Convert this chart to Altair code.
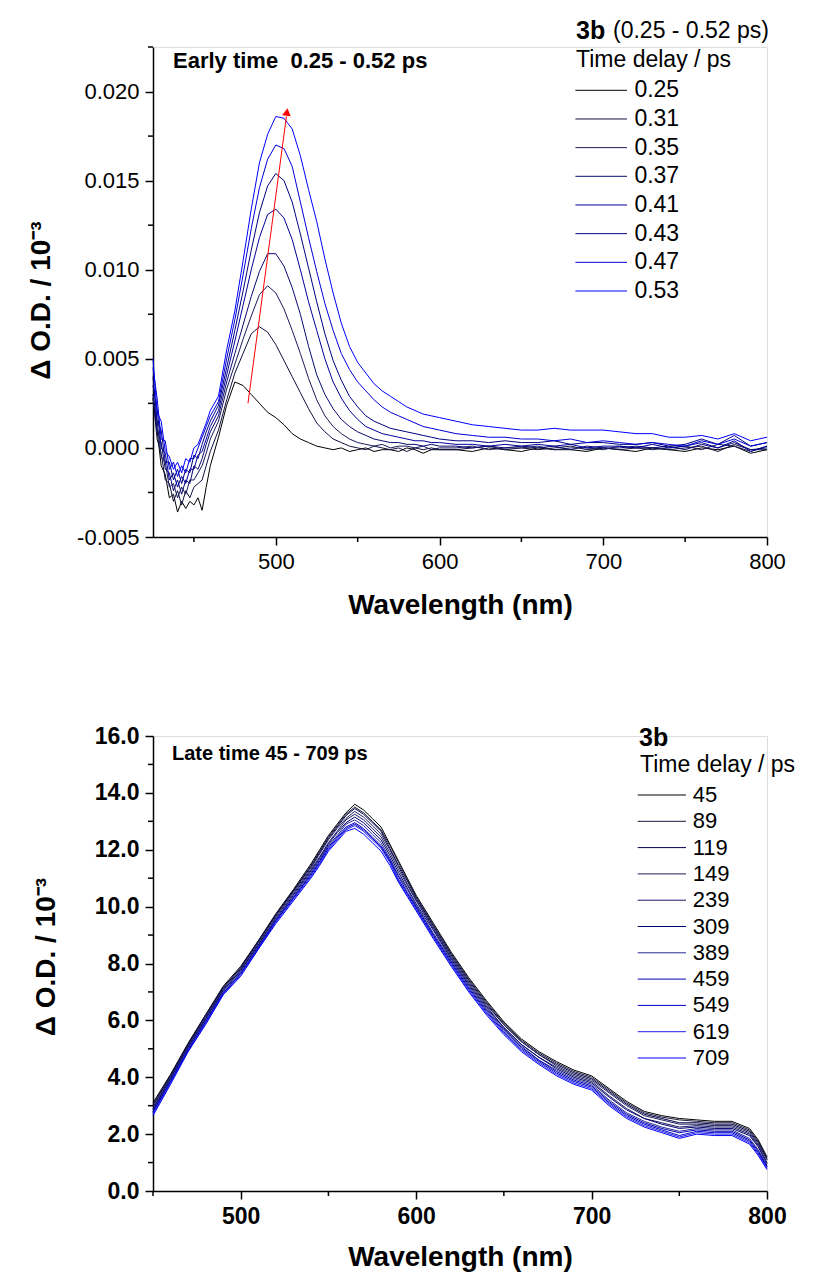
import altair as alt
import pandas as pd

FONT = "Liberation Sans"

# ---------------- top panel data (early time) ----------------
wl_top = [425, 427.5, 430, 432.5, 435, 437.5, 440, 442.5, 445, 447.5, 450, 452.5, 455, 457.5, 460,
          465, 470, 475, 480, 485, 490, 495, 500, 505, 510, 515, 520, 525, 530, 535, 540, 545, 550,
          555, 560, 565, 570, 575, 580, 585, 590, 595, 600,
          610, 620, 630, 640, 650, 660, 670, 680, 690, 700, 710, 720, 730, 740, 750, 760, 770, 780, 790, 800]

delays_top = ["0.25", "0.31", "0.35", "0.37", "0.41", "0.43", "0.47", "0.53"]
colors_top = ["#000000", "#101040", "#1a1a5c", "#0a0a70", "#00009a", "#000080", "#0000d8", "#0000ff"]

# values in units of 1e-3 OD
od_025 = [2.8, 1.0, -1.0, -1.5, -2.8, -2.6, -3.6, -3.0, -3.4, -3.0, -3.2, -2.8, -3.5, -2.2, -1.0,
          0.6, 2.4, 3.7, 3.5, 3.0, 2.5, 2.0, 1.7, 1.3, 0.8, 0.5, 0.3, 0.1, 0.0, -0.1, 0.0, -0.2, -0.1,
          0.0, -0.2, -0.1, -0.1, -0.2, 0.0, -0.1, -0.3, -0.1, -0.1,
          -0.1, -0.2, 0.0, -0.1, -0.2, 0.0, -0.1, -0.1, -0.2, 0.0, -0.1, -0.2, 0.0, -0.1, -0.2, 0.0, -0.1, 0.1, -0.3, -0.1]
od_031 = [2.8, 0.5, -0.3, -1.8, -2.0, -3.0, -2.4, -3.2, -2.4, -2.8, -2.2, -2.0, -1.8, -1.0, -0.2,
          1.0, 2.7, 4.2, 5.3, 6.4, 6.8, 6.5, 5.8, 4.9, 4.0, 3.1, 2.2, 1.4, 0.9, 0.5, 0.3, 0.1, 0.0,
          -0.1, 0.1, 0.0, -0.1, 0.0, -0.2, 0.0, -0.1, 0.0, -0.1,
          -0.1, 0.0, 0.1, -0.1, 0.0, -0.1, 0.0, 0.1, -0.1, 0.0, -0.1, 0.0, 0.0, -0.1, 0.0, 0.1, -0.2, 0.2, -0.1, -0.1]
od_035 = [3.0, 1.5, -0.5, -0.8, -2.2, -2.0, -2.8, -2.2, -2.6, -1.8, -1.8, -1.4, -1.0, -0.3, 0.5,
          1.5, 3.3, 4.7, 6.1, 7.4, 8.6, 9.1, 8.7, 7.8, 6.6, 5.3, 3.9, 2.7, 1.8, 1.2, 0.8, 0.5, 0.3,
          0.2, 0.1, 0.2, 0.0, 0.1, 0.1, 0.0, 0.1, -0.1, 0.0,
          0.0, 0.1, -0.1, 0.0, 0.0, 0.1, -0.1, 0.0, 0.0, -0.1, 0.1, 0.0, -0.1, 0.0, 0.1, -0.1, 0.2, 0.1, -0.2, 0.1]
od_037 = [3.0, 1.0, 0.3, -1.2, -1.4, -2.4, -1.8, -2.6, -1.8, -2.0, -1.0, -1.2, -0.6, 0.2, 0.9,
          1.8, 3.7, 5.3, 6.9, 8.5, 9.9, 10.9, 10.9, 10.2, 9.0, 7.5, 5.7, 4.1, 3.0, 2.2, 1.6, 1.2, 0.9,
          0.7, 0.5, 0.4, 0.3, 0.3, 0.2, 0.2, 0.1, 0.2, 0.1,
          0.1, 0.0, 0.1, 0.0, 0.1, 0.0, 0.1, -0.1, 0.1, 0.0, 0.0, 0.1, 0.0, 0.1, -0.1, 0.2, 0.0, 0.3, -0.1, 0.0]
od_041 = [3.5, 2.2, 0.0, -0.3, -1.8, -1.4, -2.2, -1.6, -2.0, -1.2, -1.2, -0.4, -0.2, 0.5, 1.2,
          2.1, 4.1, 6.0, 8.0, 10.0, 11.8, 13.1, 13.4, 12.9, 11.7, 10.0, 8.2, 6.6, 5.0, 3.7, 2.8, 2.1, 1.6,
          1.2, 1.0, 0.8, 0.7, 0.6, 0.5, 0.4, 0.4, 0.3, 0.3,
          0.2, 0.2, 0.1, 0.2, 0.1, 0.2, 0.1, 0.2, 0.0, 0.1, 0.1, 0.0, 0.2, 0.0, 0.1, 0.3, 0.0, 0.4, -0.2, 0.1]
od_043 = [4.0, 1.5, 1.0, -0.8, -0.8, -1.8, -1.2, -2.0, -1.2, -1.4, -0.4, -0.6, 0.2, 0.9, 1.5,
          2.4, 4.5, 6.6, 8.8, 11.1, 13.2, 14.7, 15.4, 15.0, 13.8, 12.0, 10.1, 8.2, 6.4, 4.9, 3.8, 2.9, 2.3,
          1.8, 1.5, 1.3, 1.1, 1.0, 0.9, 0.8, 0.7, 0.6, 0.5,
          0.4, 0.4, 0.3, 0.4, 0.3, 0.3, 0.4, 0.2, 0.3, 0.3, 0.2, 0.2, 0.3, 0.1, 0.2, 0.5, 0.2, 0.7, 0.1, 0.3]
od_047 = [4.5, 2.8, 0.5, 0.4, -1.2, -0.8, -1.6, -1.0, -1.4, -0.6, -0.6, 0.0, 0.6, 1.2, 1.8,
          2.6, 5.0, 7.2, 9.7, 12.3, 14.6, 16.2, 17.0, 16.8, 15.8, 13.8, 11.8, 9.9, 8.1, 6.6, 5.3, 4.4, 3.7,
          3.2, 2.7, 2.3, 2.0, 1.8, 1.6, 1.4, 1.2, 1.1, 1.0,
          0.8, 0.7, 0.6, 0.6, 0.5, 0.5, 0.4, 0.5, 0.3, 0.4, 0.3, 0.2, 0.3, 0.2, 0.1, 0.4, 0.2, 0.5, 0.1, 0.3]
od_053 = [5.0, 2.0, 1.5, -0.2, -0.5, -1.2, -0.8, -1.4, -0.6, -0.8, 0.0, 0.2, 0.8, 1.4, 2.1,
          2.9, 5.5, 7.7, 10.5, 13.4, 16.0, 17.6, 18.6, 18.5, 17.9, 16.4, 14.5, 12.7, 10.6, 8.7, 7.0, 5.7, 4.8,
          4.2, 3.6, 3.2, 2.9, 2.6, 2.3, 2.1, 1.9, 1.8, 1.7,
          1.5, 1.3, 1.2, 1.1, 1.0, 1.0, 1.1, 1.0, 1.0, 1.0, 0.9, 0.8, 0.8, 0.6, 0.6, 0.7, 0.5, 0.8, 0.4, 0.6]
series_top = [od_025, od_031, od_035, od_037, od_041, od_043, od_047, od_053]

arrow_wl = [483.0, 506.5]
arrow_od = [0.0025, 0.0186]
arrow_tip_wl = [506.8]
arrow_tip_od = [0.01885]

top_x_ticks = [500, 600, 700, 800]
top_x_minor = [450, 550, 650, 750]
top_y_ticks = [-0.005, 0.0, 0.005, 0.010, 0.015, 0.020]
top_y_minor = [-0.0025, 0.0025, 0.0075, 0.0125, 0.0175, 0.0225]

# ---------------- bottom panel data (late time) ----------------
wl_bot = [450, 460, 470, 480, 490, 500, 510, 520, 530, 540,
          545, 550, 555, 560, 565, 570, 575, 580, 585, 590, 595,
          600, 610, 620, 630, 640, 650, 660, 670, 680, 690, 700, 710, 720, 730, 740, 750, 760, 770, 780, 790,
          795, 800]
delays_bot = ["45", "89", "119", "149", "239", "309", "389", "459", "549", "619", "709"]
colors_bot = ["#000000", "#1a1a3a", "#000050", "#20205a", "#1a1a66", "#000070",
              "#2a2a99", "#0000b0", "#0000cc", "#2020ee", "#0000ff"]

od_45 = [3.1, 4.1, 5.2, 6.2, 7.2, 7.9, 8.8, 9.75, 10.6, 11.5,
         12.0, 12.5, 12.9, 13.3, 13.6, 13.4, 13.1, 12.8, 12.2, 11.6, 11.0,
         10.4, 9.4, 8.4, 7.5, 6.7, 5.95, 5.35, 4.9, 4.55, 4.25, 4.05, 3.6, 3.15, 2.8, 2.65, 2.55, 2.5, 2.45, 2.45, 2.2,
         1.8, 1.2]
od_89 = [3.05, 4.05, 5.15, 6.2, 7.15, 7.85, 8.8, 9.7, 10.55, 11.45,
         11.95, 12.45, 12.85, 13.25, 13.5, 13.3, 13.0, 12.7, 12.15, 11.55, 10.95,
         10.35, 9.35, 8.35, 7.45, 6.65, 5.9, 5.3, 4.85, 4.5, 4.2, 4.0, 3.55, 3.1, 2.75, 2.6, 2.5, 2.45, 2.4, 2.4, 2.15,
         1.75, 1.15]
od_119 = [3.0, 4.05, 5.15, 6.15, 7.15, 7.85, 8.75, 9.7, 10.55, 11.4,
          11.9, 12.4, 12.8, 13.2, 13.45, 13.25, 12.95, 12.65, 12.05, 11.45, 10.9,
          10.3, 9.3, 8.3, 7.4, 6.6, 5.85, 5.25, 4.8, 4.45, 4.15, 3.95, 3.5, 3.05, 2.7, 2.55, 2.4, 2.4, 2.35, 2.35, 2.1,
          1.7, 1.1]
od_149 = [2.95, 4.0, 5.1, 6.1, 7.1, 7.8, 8.7, 9.65, 10.5, 11.35,
          11.85, 12.35, 12.75, 13.1, 13.35, 13.15, 12.85, 12.55, 12.0, 11.4, 10.8,
          10.25, 9.25, 8.25, 7.35, 6.55, 5.85, 5.25, 4.8, 4.4, 4.1, 3.9, 3.45, 3.0, 2.65, 2.5, 2.35, 2.35, 2.3, 2.3, 2.05,
          1.65, 1.1]
od_239 = [2.9, 3.95, 5.05, 6.05, 7.05, 7.75, 8.65, 9.6, 10.45, 11.3,
          11.75, 12.25, 12.65, 13.05, 13.25, 13.05, 12.75, 12.45, 11.9, 11.3, 10.75,
          10.2, 9.2, 8.2, 7.3, 6.5, 5.75, 5.15, 4.7, 4.35, 4.05, 3.85, 3.35, 2.9, 2.55, 2.4, 2.25, 2.3, 2.25, 2.25, 2.0,
          1.6, 1.0]
od_309 = [2.85, 3.95, 5.05, 6.05, 7.05, 7.75, 8.65, 9.55, 10.4, 11.25,
          11.7, 12.2, 12.6, 12.95, 13.15, 12.95, 12.65, 12.35, 11.8, 11.2, 10.65,
          10.1, 9.15, 8.15, 7.25, 6.45, 5.75, 5.15, 4.7, 4.3, 4.0, 3.8, 3.3, 2.85, 2.55, 2.35, 2.2, 2.25, 2.2, 2.2, 1.95,
          1.55, 0.95]
od_389 = [2.8, 3.9, 5.0, 6.0, 7.0, 7.7, 8.6, 9.55, 10.35, 11.2,
          11.65, 12.15, 12.5, 12.9, 13.05, 12.85, 12.55, 12.25, 11.7, 11.1, 10.6,
          10.05, 9.05, 8.1, 7.2, 6.4, 5.7, 5.1, 4.6, 4.25, 3.95, 3.75, 3.2, 2.75, 2.45, 2.25, 2.1, 2.2, 2.15, 2.15, 1.85,
          1.45, 0.9]
od_459 = [2.8, 3.85, 4.95, 5.95, 6.95, 7.65, 8.55, 9.5, 10.3, 11.15,
          11.6, 12.1, 12.45, 12.8, 12.95, 12.75, 12.45, 12.15, 11.65, 11.05, 10.5,
          10.0, 9.0, 8.05, 7.15, 6.35, 5.65, 5.05, 4.6, 4.2, 3.9, 3.7, 3.15, 2.7, 2.4, 2.2, 2.05, 2.15, 2.1, 2.1, 1.8,
          1.4, 0.85]
od_549 = [2.75, 3.85, 4.95, 5.95, 6.95, 7.65, 8.55, 9.5, 10.3, 11.1,
          11.55, 12.05, 12.4, 12.75, 12.9, 12.7, 12.4, 12.1, 11.6, 10.95, 10.45,
          9.95, 8.95, 8.0, 7.1, 6.3, 5.6, 5.0, 4.55, 4.15, 3.85, 3.65, 3.1, 2.65, 2.35, 2.15, 1.95, 2.1, 2.05, 2.05, 1.75,
          1.35, 0.85]
od_619 = [2.7, 3.8, 4.9, 5.9, 6.9, 7.6, 8.5, 9.45, 10.25, 11.05,
          11.5, 12.0, 12.35, 12.7, 12.85, 12.65, 12.35, 12.05, 11.55, 10.9, 10.4,
          9.9, 8.9, 7.95, 7.05, 6.25, 5.55, 4.95, 4.5, 4.1, 3.8, 3.6, 3.05, 2.6, 2.3, 2.1, 1.9, 2.05, 2.0, 2.0, 1.7,
          1.3, 0.8]
od_709 = [2.65, 3.75, 4.9, 5.85, 6.9, 7.55, 8.5, 9.4, 10.2, 11.0,
          11.45, 11.95, 12.3, 12.65, 12.75, 12.55, 12.25, 11.95, 11.45, 10.85, 10.35,
          9.85, 8.85, 7.9, 7.0, 6.2, 5.5, 4.9, 4.45, 4.05, 3.75, 3.55, 3.0, 2.55, 2.25, 2.05, 1.85, 2.0, 1.95, 1.95, 1.65,
          1.25, 0.75]
series_bot = [od_45, od_89, od_119, od_149, od_239, od_309, od_389, od_459, od_549, od_619, od_709]

bot_x_ticks = [500, 600, 700, 800]
bot_x_minor = [450, 550, 650, 750]
bot_y_ticks = [0, 2, 4, 6, 8, 10, 12, 14, 16]
bot_y_minor = [1, 3, 5, 7, 9, 11, 13, 15]

# ---------------- build tables ----------------
rows = []
for d, vals in zip(delays_top, series_top):
    for w, v in zip(wl_top, vals):
        rows.append({"wl": w, "od": v / 1000.0, "delay": d})
df_top = pd.DataFrame(rows)

rows = []
for d, vals in zip(delays_bot, series_bot):
    for w, v in zip(wl_bot, vals):
        rows.append({"wl": w, "od": v, "delay": d})
df_bot = pd.DataFrame(rows)

one = pd.DataFrame({"a": [0]})

W = 614
H1 = 490
H2 = 455
TICK = 8


def axis_common(**kw):
    base = dict(grid=False, domainColor="black", domainWidth=1.5, tickColor="black",
                tickWidth=1.5, tickSize=TICK, labelColor="black", labelFont=FONT,
                titleFont=FONT, titleFontWeight="bold", titleFontSize=28, titleColor="black",
                labelFlush=False, labelOverlap=False)
    base.update(kw)
    return alt.Axis(**base)


def text_layer(txt, x, y, size, weight="normal", align="left"):
    return alt.Chart(pd.DataFrame({"t": [txt]})).mark_text(
        font=FONT, fontSize=size, fontWeight=weight, align=align, baseline="middle", color="black"
    ).encode(text="t:N", x=alt.value(x), y=alt.value(y))


def legend_layers(labels, colors, x0, x1, xt, y0, dy, size):
    out = []
    for i, (lab, col) in enumerate(zip(labels, colors)):
        yy = y0 + dy * i
        out.append(alt.Chart(one).mark_rule(color=col, strokeWidth=1).encode(
            x=alt.value(x0), x2=alt.value(x1), y=alt.value(yy)))
        out.append(text_layer(lab, xt, yy, size))
    return out


# ---------------- top panel ----------------
x_top = alt.X("wl:Q", scale=alt.Scale(domain=[425, 800], nice=False, zero=False),
              axis=axis_common(values=top_x_ticks, format="d", title="Wavelength (nm)",
                               labelFontSize=22, labelPadding=6,
                               titleX=W / 2, titleY=68, titleBaseline="middle", titleAlign="center"))
y_top = alt.Y("od:Q", scale=alt.Scale(domain=[-0.005, 0.0225], nice=False, zero=False),
              axis=axis_common(values=top_y_ticks,
                               labelExpr="datum.value < 0 ? '-' + format(-datum.value, '.3f') : format(datum.value, '.3f')",
                               title="\u0394 O.D. / 10\u207b\u00b3", labelFontSize=22, labelPadding=6,
                               titleX=-112, titleY=H1 / 2 + 8, titleAngle=270,
                               titleBaseline="middle", titleAlign="center"))

top_lines = alt.Chart(df_top).mark_line(strokeWidth=1).encode(
    x=x_top, y=y_top,
    color=alt.Color("delay:N", scale=alt.Scale(domain=delays_top, range=colors_top), legend=None),
)
top_xminor = alt.Chart(pd.DataFrame({"wl": top_x_minor})).mark_rule(color="black", strokeWidth=1.5).encode(
    x=x_top, y=alt.value(H1), y2=alt.value(H1 + 5))
top_yminor = alt.Chart(pd.DataFrame({"od": top_y_minor})).mark_rule(color="black", strokeWidth=1.5).encode(
    y=y_top, x=alt.value(-5), x2=alt.value(0))
arrow_line = alt.Chart(pd.DataFrame({"wl": arrow_wl, "od": arrow_od})).mark_line(
    color="#ff0000", strokeWidth=1).encode(x=x_top, y=y_top)
arrow_head = alt.Chart(pd.DataFrame({"wl": arrow_tip_wl, "od": arrow_tip_od})).mark_point(
    shape="triangle-up", filled=True, color="#ff0000", size=75, angle=8, opacity=1).encode(x=x_top, y=y_top)

top_layers = [top_lines, top_xminor, top_yminor, arrow_line, arrow_head,
              text_layer("Early time\u00a0 0.25 - 0.52 ps", 20, 14, 22, "bold"),
              text_layer("3b", 423, -16, 25, "bold"),
              text_layer("(0.25 - 0.52 ps)", 460, -16, 23),
              text_layer("Time delay / ps", 423, 13, 23)]
top_layers += legend_layers(delays_top, colors_top, 422.4, 474, 481.4, 43.3, 28.67, 23)
top = alt.layer(*top_layers).properties(width=W, height=H1)

# ---------------- bottom panel ----------------
x_bot = alt.X("wl:Q", scale=alt.Scale(domain=[450, 800], nice=False, zero=False),
              axis=axis_common(values=bot_x_ticks, format="d", title="Wavelength (nm)",
                               labelFontSize=23, labelFontWeight="bold", labelPadding=6,
                               titleX=W / 2, titleY=66, titleBaseline="middle", titleAlign="center"))
y_bot = alt.Y("od:Q", scale=alt.Scale(domain=[0, 16], nice=False, zero=False),
              axis=axis_common(values=bot_y_ticks, format=".1f",
                               title="\u0394 O.D. / 10\u207b\u00b3", labelFontSize=23,
                               labelFontWeight="bold", labelPadding=6,
                               titleX=-107, titleY=H2 / 2 - 7, titleAngle=270,
                               titleBaseline="middle", titleAlign="center"))

bot_lines = alt.Chart(df_bot).mark_line(strokeWidth=1).encode(
    x=x_bot, y=y_bot,
    color=alt.Color("delay:N", scale=alt.Scale(domain=delays_bot, range=colors_bot), legend=None),
)
bot_xminor = alt.Chart(pd.DataFrame({"wl": bot_x_minor})).mark_rule(color="black", strokeWidth=1.5).encode(
    x=x_bot, y=alt.value(H2), y2=alt.value(H2 + 5))
bot_yminor = alt.Chart(pd.DataFrame({"od": bot_y_minor})).mark_rule(color="black", strokeWidth=1.5).encode(
    y=y_bot, x=alt.value(-5), x2=alt.value(0))

bot_layers = [bot_lines, bot_xminor, bot_yminor,
              text_layer("Late time 45 - 709 ps", 19, 18, 20, "bold"),
              text_layer("3b", 486, 2, 25, "bold"),
              text_layer("Time delay / ps", 487, 29, 23)]
bot_layers += legend_layers(delays_bot, colors_bot, 484.7, 533, 539.7, 59, 26.3, 22)
bottom = alt.layer(*bot_layers).properties(width=W, height=H2)

chart = alt.vconcat(top, bottom, spacing=104).resolve_scale(
    x="independent", y="independent", color="independent"
).properties(
    padding={"left": 26, "top": 18, "right": 0, "bottom": 0}
).configure_view(stroke=None).configure(font=FONT)

chart.save("out.html", embed_options={"renderer": "svg", "actions": False})
